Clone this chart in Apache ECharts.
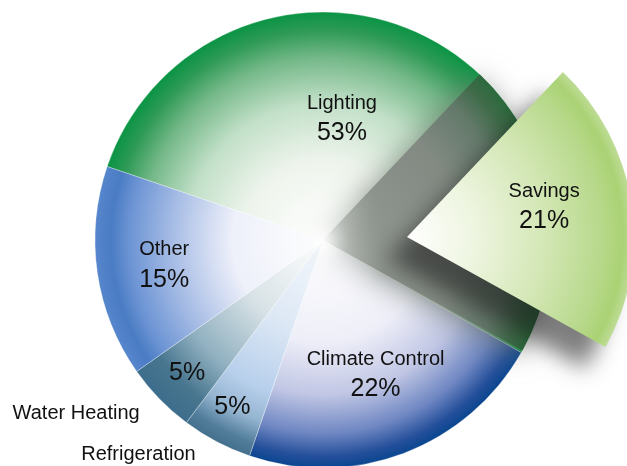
<!DOCTYPE html>
<html>
<head>
<meta charset="utf-8">
<script src="https://cdn.jsdelivr.net/npm/echarts@6/dist/echarts.min.js"></script>
<style>
html,body{margin:0;padding:0;background:#fff;}
#chart{width:627px;height:466px;}
</style>
</head>
<body>
<div id="chart"></div>
<script>
// Data
var categories = ['Lighting', 'Climate Control', 'Refrigeration', 'Water Heating', 'Other'];
var values = [53, 22, 5, 5, 15];
var savingsName = 'Savings';
var savingsValue = 21;

// Geometry / style
var C = [323, 240], R = 228;
var SC = [407, 237], SR = 227;
var startAngle = 161.2;
var savingsStart = 46.6;

function grad(cx, cy, r, stops) {
  return {
    type: 'radial', x: cx, y: cy, r: r, global: true,
    colorStops: stops.map(function (s) { return { offset: s[0], color: s[1] }; })
  };
}
var fills = {
  'Lighting': [[0, '#ffffff'], [0.35, '#eef4ec'], [0.6, '#c2e0c8'], [0.8, '#74b888'], [0.92, '#2e9a56'], [1, '#0a9444']],
  'Climate Control': [[0, '#ffffff'], [0.45, '#eeeef8'], [0.68, '#c0c6e4'], [0.85, '#6e86c2'], [0.95, '#244f9a'], [1, '#0a4690']],
  'Refrigeration': [[0, '#f4f8fc'], [0.4, '#dde8f5'], [0.7, '#b8d0ec'], [0.84, '#94b4d0'], [0.94, '#527e9c'], [1, '#44708e']],
  'Water Heating': [[0, '#ffffff'], [0.4, '#d8e2e6'], [0.7, '#90b0c0'], [0.88, '#48768f'], [1, '#3d6d8c']],
  'Other': [[0, '#ffffff'], [0.4, '#eef0fa'], [0.65, '#aabfe6'], [0.85, '#6c94d4'], [0.93, '#4a7cc4'], [1, '#5686cc']]
};
var holeFill = [[0, 'rgba(150,156,150,0)'], [0.12, 'rgba(145,150,145,0.5)'], [0.3, '#8c928c'], [0.6, '#828a82'], [0.82, '#63796a'], [0.93, '#3e6b48'], [1, '#2c6a3c']];
var savingsFill = [[0, '#ffffff'], [0.3, '#eef5e0'], [0.6, '#d4e7b6'], [0.85, '#b8d98c'], [0.95, '#aad274'], [1, '#bedc96']];

// label offsets (relative to ECharts' inside-label anchor)
var labelOffsets = {
  'Lighting': [-29, -15],
  'Climate Control': [11, 25],
  'Other': [-43, 8]
};
var rich = {
  n: { fontSize: 20, lineHeight: 30, color: '#111', fontFamily: 'Liberation Sans, Arial, sans-serif' },
  p: { fontSize: 25, lineHeight: 30, color: '#111', fontFamily: 'Liberation Sans, Arial, sans-serif' }
};

var mainData = categories.map(function (c, i) {
  var d = {
    name: c, value: values[i],
    itemStyle: { color: grad(C[0], C[1], R, fills[c]) }
  };
  if (labelOffsets[c]) {
    d.label = { offset: labelOffsets[c], formatter: '{n|{b}}\n{p|{c}%}' };
  } else {
    d.label = { formatter: '{p|{c}%}', offset: c === 'Refrigeration' ? [-36, 64] : [-52, 52] };
  }
  return d;
});

var nameOnly = categories.map(function (c, i) {
  var show = (c === 'Refrigeration' || c === 'Water Heating');
  return {
    name: c, value: values[i],
    itemStyle: { color: 'rgba(0,0,0,0)' },
    label: {
      show: show, formatter: '{n|{b}}',
      offset: c === 'Refrigeration' ? [-130, 111] : [-163, 92]
    }
  };
});

var option = {
  animation: false,
  series: [
    {
      type: 'pie', center: C, radius: [0, R], startAngle: startAngle,
      clockwise: true, avoidLabelOverlap: false, silent: true,
      itemStyle: { borderColor: 'rgba(255,255,255,0.5)', borderWidth: 0.6 },
      label: { show: true, position: 'inside', rich: rich, align: 'center' },
      labelLine: { show: false },
      data: mainData, z: 1
    },
    {
      // the empty place left in the pie by the pulled-out savings slice
      type: 'pie', center: C, radius: [0, R], startAngle: savingsStart,
      clockwise: true, avoidLabelOverlap: false, silent: true,
      label: { show: false }, labelLine: { show: false },
      data: [
        {
          name: 'hole', value: savingsValue,
          itemStyle: {
            color: grad(C[0], C[1], R, holeFill),
            shadowColor: 'rgba(110,120,110,0.75)', shadowBlur: 30,
            shadowOffsetX: -4, shadowOffsetY: 4
          }
        },
        { name: '', value: 100 - savingsValue, itemStyle: { color: 'rgba(0,0,0,0)' } }
      ],
      z: 2
    },
    {
      type: 'pie', center: C, radius: [0, R], startAngle: startAngle,
      clockwise: true, avoidLabelOverlap: false, silent: true,
      label: { show: false, position: 'inside', rich: rich },
      labelLine: { show: false },
      data: nameOnly, z: 2
    },
    {
      type: 'pie', center: SC, radius: [0, SR], startAngle: savingsStart,
      clockwise: true, avoidLabelOverlap: false, silent: true,
      label: { show: false, position: 'inside', rich: rich },
      labelLine: { show: false },
      data: [
        {
          name: savingsName, value: savingsValue,
          itemStyle: {
            color: grad(SC[0], SC[1], SR, savingsFill),
            shadowColor: 'rgba(20,20,20,0.55)', shadowBlur: 22,
            shadowOffsetX: -20, shadowOffsetY: 22
          },
          label: { show: true, offset: [22, -13], formatter: '{n|{b}}\n{p|{c}%}' }
        },
        {
          name: '', value: 100 - savingsValue,
          itemStyle: { color: 'rgba(0,0,0,0)' },
          label: { show: false }
        }
      ],
      z: 3
    }
  ]
};

var chart = echarts.init(document.getElementById('chart'), null, { renderer: 'canvas' });
chart.setOption(option);
</script>
</body>
</html>
